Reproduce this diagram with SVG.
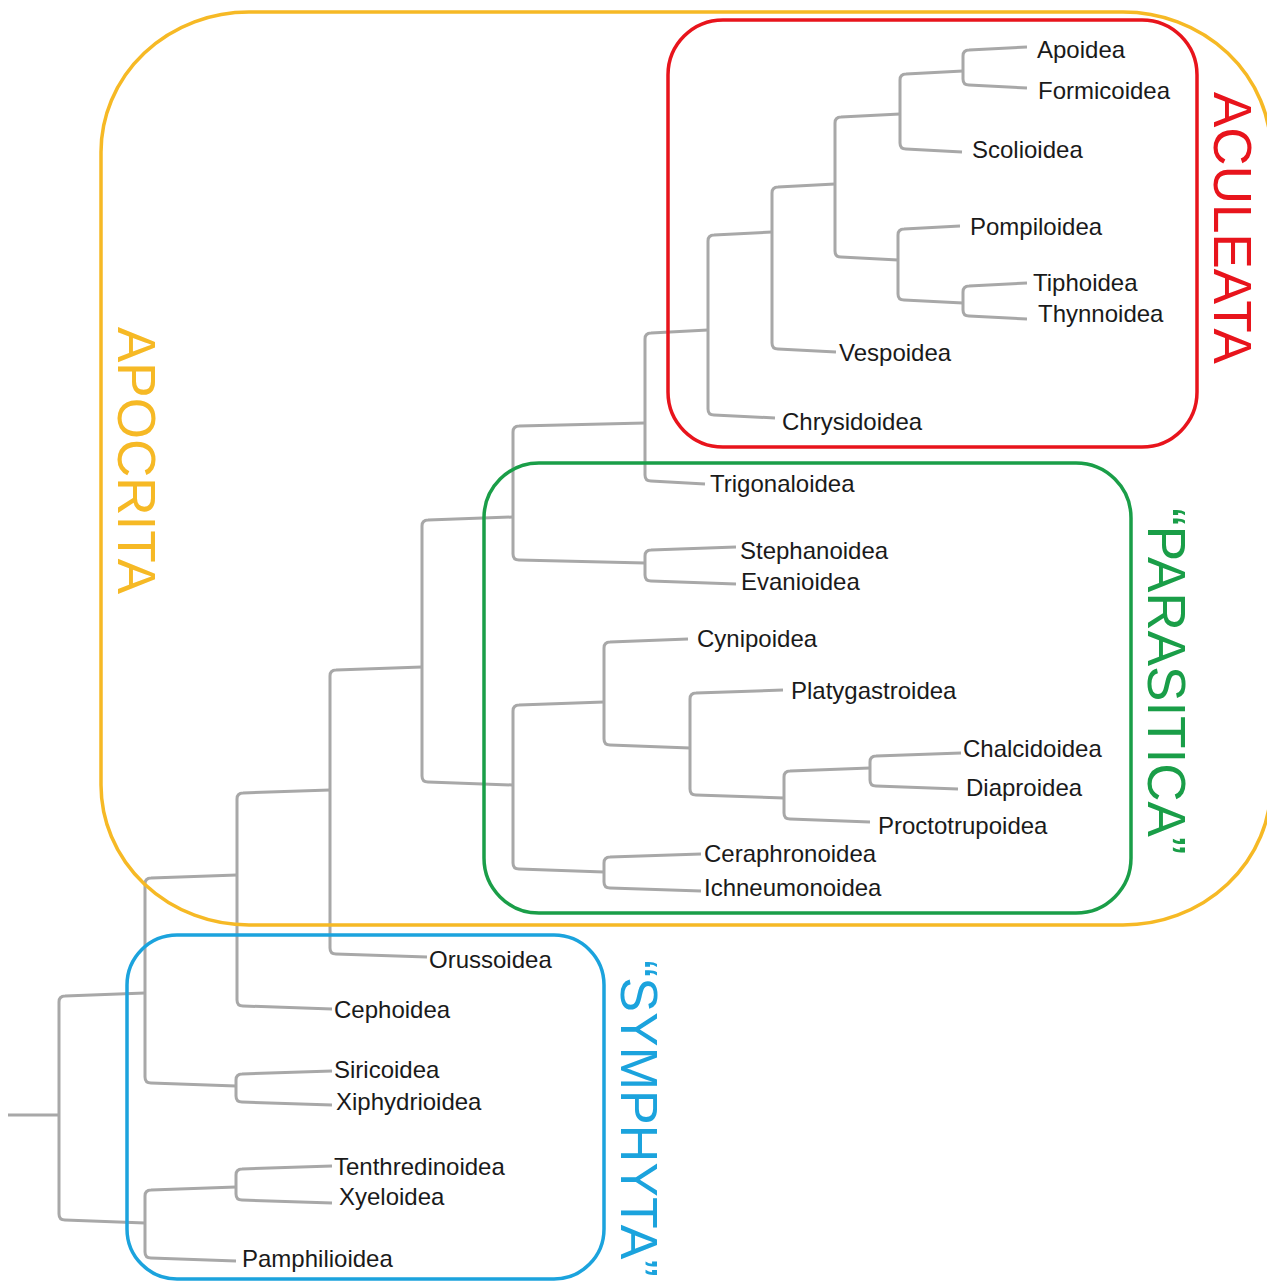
<svg xmlns="http://www.w3.org/2000/svg" width="1267" height="1282" viewBox="0 0 1267 1282">
<style>
.br{fill:none;stroke:#a8a8a8;stroke-width:3;stroke-linecap:butt;stroke-linejoin:round}
.lb{font-family:"Liberation Sans",Arial,sans-serif;font-size:24px;fill:#1a1a1a}
.box{fill:none;stroke-width:3.5}
.cl{font-family:"Liberation Sans",Arial,sans-serif;font-size:53px}
</style>
<rect width="1267" height="1282" fill="#ffffff"/>
<g id="connectors">
<path class="br" d="M8,1115 L59,1115"/>
<path class="br" d="M1027,47 L969,50 Q963,50 963,56 L963,79 Q963,85 969,85 L1027,88"/>
<path class="br" d="M963,71 L906,74 Q900,74 900,80 L900,143 Q900,149 906,149 L962,152"/>
<path class="br" d="M1027,283 L969,286 Q963,286 963,292 L963,310 Q963,316 969,316 L1027,319"/>
<path class="br" d="M960,226 L904,229 Q898,229 898,235 L898,294 Q898,300 904,300 L963,303"/>
<path class="br" d="M900,114 L841,117 Q835,117 835,123 L835,251 Q835,257 841,257 L898,260"/>
<path class="br" d="M835,184 L778,187 Q772,187 772,193 L772,343 Q772,349 778,349 L836,352"/>
<path class="br" d="M772,232 L714,235 Q708,235 708,241 L708,409 Q708,415 714,415 L775,418"/>
<path class="br" d="M708,330 L651,333 Q645,333 645,339 L645,475 Q645,481 651,481 L705,484"/>
<path class="br" d="M736,547 L651,550 Q645,550 645,556 L645,575 Q645,581 651,581 L736,584"/>
<path class="br" d="M645,423 L519,426 Q513,426 513,432 L513,554 Q513,560 519,560 L645,563"/>
<path class="br" d="M961,753 L876,756 Q870,756 870,762 L870,780 Q870,786 876,786 L958,789"/>
<path class="br" d="M870,768 L790,771 Q784,771 784,777 L784,813 Q784,819 790,819 L870,822"/>
<path class="br" d="M783,690 L696,693 Q690,693 690,699 L690,789 Q690,795 696,795 L784,798"/>
<path class="br" d="M688,639 L610,642 Q604,642 604,648 L604,739 Q604,745 610,745 L690,748"/>
<path class="br" d="M701,854 L610,857 Q604,857 604,863 L604,882 Q604,888 610,888 L701,891"/>
<path class="br" d="M604,702 L519,705 Q513,705 513,711 L513,863 Q513,869 519,869 L604,872"/>
<path class="br" d="M513,517 L428,520 Q422,520 422,526 L422,776 Q422,782 428,782 L513,785"/>
<path class="br" d="M422,667 L336,670 Q330,670 330,676 L330,948 Q330,954 336,954 L427,957"/>
<path class="br" d="M330,790 L243,793 Q237,793 237,799 L237,1000 Q237,1006 243,1006 L332,1009"/>
<path class="br" d="M332,1071 L242,1074 Q236,1074 236,1080 L236,1096 Q236,1102 242,1102 L332,1105"/>
<path class="br" d="M237,875 L151,878 Q145,878 145,884 L145,1077 Q145,1083 151,1083 L236,1086"/>
<path class="br" d="M332,1166 L242,1169 Q236,1169 236,1175 L236,1194 Q236,1200 242,1200 L332,1203"/>
<path class="br" d="M236,1187 L151,1190 Q145,1190 145,1196 L145,1252 Q145,1258 151,1258 L236,1261"/>
<path class="br" d="M145,993 L65,996 Q59,996 59,1002 L59,1214 Q59,1220 65,1220 L145,1223"/>
</g>
<g id="apocrita">
<rect class="box" x="101" y="12" width="1170" height="913" rx="148" ry="140" stroke="#f6b925" stroke-width="3"/>
<text class="cl" fill="#f6b925" transform="translate(118,327) rotate(90)">APOCRITA</text>
</g>
<g id="aculeata">
<rect class="box" x="668" y="20" width="529" height="427" rx="55" ry="55" stroke="#e8141c"/>
<text class="cl" fill="#e8141c" transform="translate(1214,92) rotate(90)">ACULEATA</text>
</g>
<g id="parasitica">
<rect class="box" x="484" y="463" width="647" height="450" rx="55" ry="55" stroke="#1a9e48"/>
<text class="cl" fill="#1a9e48" transform="translate(1148,508) rotate(90)">“PARASITICA”</text>
</g>
<g id="symphyta">
<rect class="box" x="127" y="935" width="477" height="344" rx="50" ry="50" stroke="#1ba3dd"/>
<text class="cl" fill="#1ba3dd" style="font-size:52px" transform="translate(621,960) rotate(90)">“SYMPHYTA”</text>
</g>
<g id="n-apoidea"><text class="lb" x="1037" y="58">Apoidea</text></g>
<g id="n-formicoidea"><text class="lb" x="1038" y="99">Formicoidea</text></g>
<g id="n-scolioidea"><text class="lb" x="972" y="158">Scolioidea</text></g>
<g id="n-pompiloidea"><text class="lb" x="970" y="235">Pompiloidea</text></g>
<g id="n-tiphoidea"><text class="lb" x="1033" y="291">Tiphoidea</text></g>
<g id="n-thynnoidea"><text class="lb" x="1038" y="322">Thynnoidea</text></g>
<g id="n-vespoidea"><text class="lb" x="839" y="361">Vespoidea</text></g>
<g id="n-chrysidoidea"><text class="lb" x="782" y="430">Chrysidoidea</text></g>
<g id="n-trigonaloidea"><text class="lb" x="710" y="492">Trigonaloidea</text></g>
<g id="n-stephanoidea"><text class="lb" x="740" y="559">Stephanoidea</text></g>
<g id="n-evanioidea"><text class="lb" x="741" y="590">Evanioidea</text></g>
<g id="n-cynipoidea"><text class="lb" x="697" y="647">Cynipoidea</text></g>
<g id="n-platygastroidea"><text class="lb" x="791" y="699">Platygastroidea</text></g>
<g id="n-chalcidoidea"><text class="lb" x="963" y="757">Chalcidoidea</text></g>
<g id="n-diaproidea"><text class="lb" x="966" y="796">Diaproidea</text></g>
<g id="n-proctotrupoidea"><text class="lb" x="878" y="834">Proctotrupoidea</text></g>
<g id="n-ceraphronoidea"><text class="lb" x="704" y="862">Ceraphronoidea</text></g>
<g id="n-ichneumonoidea"><text class="lb" x="704" y="896">Ichneumonoidea</text></g>
<g id="n-orussoidea"><text class="lb" x="429" y="968">Orussoidea</text></g>
<g id="n-cephoidea"><text class="lb" x="334" y="1018">Cephoidea</text></g>
<g id="n-siricoidea"><text class="lb" x="334" y="1078">Siricoidea</text></g>
<g id="n-xiphydrioidea"><text class="lb" x="336" y="1110">Xiphydrioidea</text></g>
<g id="n-tenthredinoidea"><text class="lb" x="334" y="1175">Tenthredinoidea</text></g>
<g id="n-xyeloidea"><text class="lb" x="339" y="1205">Xyeloidea</text></g>
<g id="n-pamphilioidea"><text class="lb" x="242" y="1267">Pamphilioidea</text></g>
</svg>
